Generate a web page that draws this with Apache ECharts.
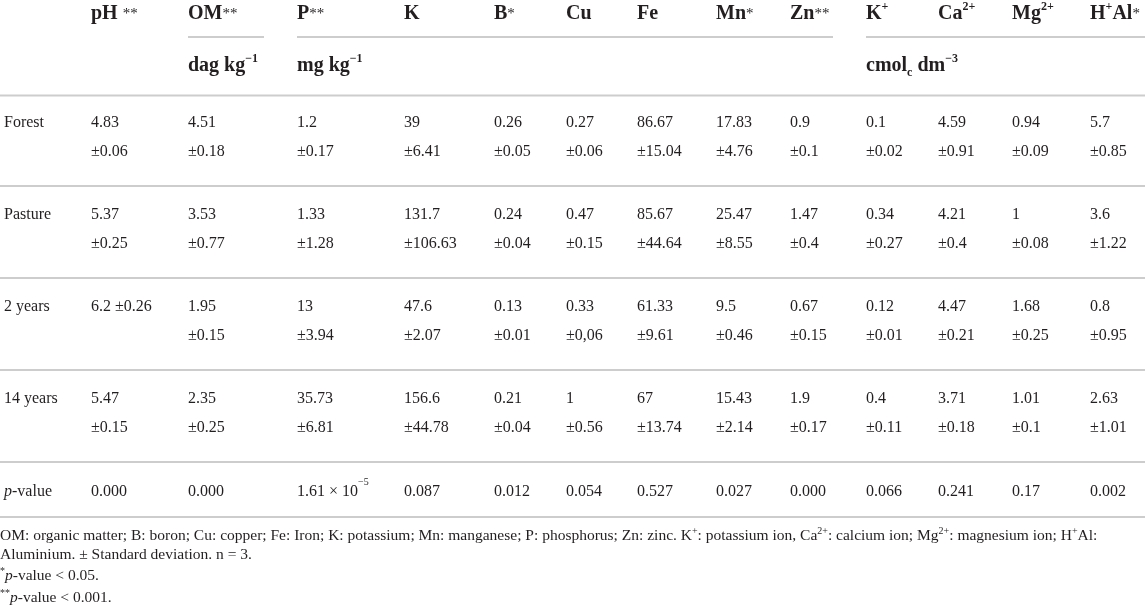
<!DOCTYPE html>
<html>
<head>
<meta charset="utf-8">
<title>Soil chemical attributes</title>
<script src="https://cdn.jsdelivr.net/npm/echarts@6/dist/echarts.min.js"></script>
<style>
html, body { margin: 0; padding: 0; background: #fff; }
#main { width: 1145px; height: 606px; }
</style>
</head>
<body>
<div id="main"></div>
<script>
// column headers (st = significance star, sup = superscript)
var headers = ['pH {st|**}', 'OM{st|**}', 'P{st|**}', 'K', 'B{st|*}', 'Cu', 'Fe', 'Mn{st|*}', 'Zn{st|**}',
  'K{sup|+}', 'Ca{sup|2+}', 'Mg{sup|2+}', 'H{sup|+}Al{st|*}'];
var unitLabels = ['dag kg{sup|−1}', 'mg kg{sup|−1}', 'cmol{sub|c} dm{sup|−3}'];
var unitFirstCol = [1, 2, 9];

var rowNames = ['Forest', 'Pasture', '2 years', '14 years'];
var forestMean = [4.83, 4.51, 1.2, 39, 0.26, 0.27, 86.67, 17.83, 0.9, 0.1, 4.59, 0.94, 5.7];
var forestSd = [0.06, 0.18, 0.17, 6.41, 0.05, 0.06, 15.04, 4.76, 0.1, 0.02, 0.91, 0.09, 0.85];
var pastureMean = [5.37, 3.53, 1.33, 131.7, 0.24, 0.47, 85.67, 25.47, 1.47, 0.34, 4.21, 1, 3.6];
var pastureSd = [0.25, 0.77, 1.28, 106.63, 0.04, 0.15, 44.64, 8.55, 0.4, 0.27, 0.4, 0.08, 1.22];
var twoYearMean = [6.2, 1.95, 13, 47.6, 0.13, 0.33, 61.33, 9.5, 0.67, 0.12, 4.47, 1.68, 0.8];
var twoYearSd = [0.26, 0.15, 3.94, 2.07, 0.01, '0,06', 9.61, 0.46, 0.15, 0.01, 0.21, 0.25, 0.95];
var fourteenMean = [5.47, 2.35, 35.73, 156.6, 0.21, 1, 67, 15.43, 1.9, 0.4, 3.71, 1.01, 2.63];
var fourteenSd = [0.15, 0.25, 6.81, 44.78, 0.04, 0.56, 13.74, 2.14, 0.17, 0.11, 0.18, 0.1, 1.01];
var pValues = ['0.000', '0.000', '1.61 × 10{sup|−5}', '0.087', '0.012', '0.054', '0.527', '0.027',
  '0.000', '0.066', '0.241', '0.17', '0.002'];

var footnotes = [
  'OM: organic matter; B: boron; Cu: copper; Fe: Iron; K: potassium; Mn: manganese; P: phosphorus; Zn: zinc. K{s|+}: potassium ion, Ca{s|2+}: calcium ion; Mg{s|2+}: magnesium ion; H{s|+}Al:',
  'Aluminium. ± Standard deviation. n = 3.',
  '{s|*}{i|p}-value < 0.05.',
  '{s|**}{i|p}-value < 0.001.'
];

// layout: left edge of each column (axis units = px), footnote line centres
var colLeft = [91, 188, 297, 404, 494, 566, 637, 716, 790, 866, 938, 1012, 1090];
var labelLeft = 4;
var footY = [536, 554.5, 576, 598];

var rowMeans = [forestMean, pastureMean, twoYearMean, fourteenMean];
var rowSds = [forestSd, pastureSd, twoYearSd, fourteenSd];
var serif = '"Liberation Serif", "DejaVu Serif", serif';
var ink = '#231f20';
var rule = '#cdcdcd';

var bodyRich = {
  i: { fontFamily: serif, fontSize: 16, fontStyle: 'italic', fill: ink, lineHeight: 29 },
  sup: { fontFamily: serif, fontSize: 10, fill: ink, lineHeight: 18, verticalAlign: 'top' }
};
var headRich = {
  st: { fontFamily: serif, fontSize: 15, fontWeight: 'normal', fill: ink, lineHeight: 26 },
  sup: { fontFamily: serif, fontSize: 12, fontWeight: 'bold', fill: ink, lineHeight: 15, verticalAlign: 'top' },
  sub: { fontFamily: serif, fontSize: 12, fontWeight: 'bold', fill: ink, lineHeight: 15, verticalAlign: 'bottom' }
};

function cellText(r, c) {
  if (r === rowNames.length) return c < 0 ? '{i|p}-value' : pValues[c];
  if (c < 0) return rowNames[r];
  // the source keeps "6.2 ±0.26" on one line
  var sep = (r === 2 && c === 0) ? ' ' : '\n';
  return rowMeans[r][c] + sep + '±' + rowSds[r][c];
}

var cells = [];
for (var r = 0; r <= rowNames.length; r++) {
  cells.push([labelLeft, r, -1]);
  for (var c = 0; c < colLeft.length; c++) cells.push([colLeft[c], r, c]);
}
var headCells = colLeft.map(function (x, c) { return [x, 0, c]; });

function renderCell(params, api) {
  var r = api.value(1), c = api.value(2);
  var pt = api.coord([api.value(0), r]);
  var band = api.size([0, 1])[1];
  var top = pt[1] - band / 2;
  var isP = r === rowNames.length;
  var firstLine = top + (isP ? 30 : 29);
  var els = [{
    type: 'text', x: pt[0], y: firstLine - 14.5,
    style: {
      text: cellText(r, c), fill: ink, fontFamily: serif, fontSize: 16,
      lineHeight: 29, align: 'left', verticalAlign: 'top', rich: bodyRich
    }
  }];
  if (c < 0) {
    var w = api.getWidth();
    if (r === 0) {
      els.push({ type: 'line', shape: { x1: 0, y1: top + 1.5, x2: w, y2: top + 1.5 }, style: { stroke: rule, lineWidth: 2 } });
    }
    var yb = isP ? top + 55 : top + band;
    els.push({ type: 'line', shape: { x1: 0, y1: yb, x2: w, y2: yb }, style: { stroke: rule, lineWidth: 2 } });
  }
  return { type: 'group', children: els };
}

function renderHeader(params, api) {
  var c = api.value(2);
  var pt = api.coord([api.value(0), 0]);
  var gridTop = pt[1] - api.size([0, 1])[1] / 2;
  var els = [{
    type: 'text', x: pt[0], y: gridTop - 80,
    style: {
      text: headers[c], fill: ink, fontFamily: serif, fontSize: 20, fontWeight: 'bold',
      lineHeight: 26, verticalAlign: 'middle', rich: headRich
    }
  }];
  var g = unitFirstCol.indexOf(c);
  if (g >= 0) {
    var end = g + 1 < unitFirstCol.length ? api.coord([colLeft[unitFirstCol[g + 1]], 0])[0] - 33 : api.getWidth();
    els.push({ type: 'line', shape: { x1: pt[0], y1: gridTop - 57, x2: end, y2: gridTop - 57 }, style: { stroke: rule, lineWidth: 2 } });
    els.push({
      type: 'text', x: pt[0], y: gridTop - 28,
      style: {
        text: unitLabels[g], fill: ink, fontFamily: serif, fontSize: 20, fontWeight: 'bold',
        lineHeight: 26, verticalAlign: 'middle', rich: headRich
      }
    });
  }
  return { type: 'group', children: els };
}

var footStyle = {
  fontFamily: serif, fontSize: 15.5, fontWeight: 'normal', color: ink, lineHeight: 20,
  rich: {
    i: { fontFamily: serif, fontSize: 15.5, fontStyle: 'italic', color: ink, lineHeight: 20 },
    s: { fontFamily: serif, fontSize: 10, color: ink, lineHeight: 13, verticalAlign: 'top' }
  }
};

var chart = echarts.init(document.getElementById('main'));
chart.setOption({
  animation: false,
  backgroundColor: '#fff',
  title: footnotes.map(function (t, i) {
    return { text: t, left: 0, top: footY[i] - 10, padding: 0, textStyle: footStyle };
  }),
  grid: { left: 0, right: 0, top: 94, height: 460 },
  xAxis: { type: 'value', min: 0, max: 1145, show: false },
  yAxis: { type: 'category', data: rowNames.concat(['p-value']), inverse: true, show: false },
  series: [
    { type: 'custom', name: 'header', data: headCells, renderItem: renderHeader, clip: false, silent: true },
    { type: 'custom', name: 'body', data: cells, renderItem: renderCell, clip: false, silent: true }
  ]
});
</script>
</body>
</html>
